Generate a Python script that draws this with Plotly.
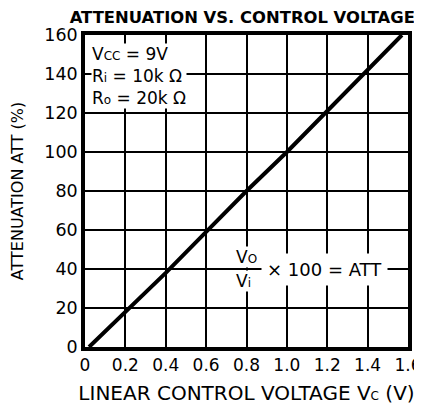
import plotly.graph_objects as go

# Data
control_voltage = [0.02, 0.2, 0.4, 0.6, 0.8, 1.0, 1.2, 1.4, 1.57]
attenuation = [0, 18, 38, 59, 80, 100, 121, 142, 160]

x_ticks = [0, 0.2, 0.4, 0.6, 0.8, 1.0, 1.2, 1.4, 1.6]
x_tick_labels = ["0", "0.2", "0.4", "0.6", "0.8", "1.0", "1.2", "1.4", "1.6"]
y_ticks = [0, 20, 40, 60, 80, 100, 120, 140, 160]

FONT = "DejaVu Sans, Liberation Sans, sans-serif"
SMALL = "<span style='font-size:12px'>{}</span>"

fig = go.Figure()
fig.add_trace(go.Scatter(x=control_voltage, y=attenuation, mode="lines",
                         line=dict(color="black", width=4), showlegend=False,
                         hoverinfo="skip"))

# page body has an 8px margin, so the figure is sized to fit the 422x409 window
fig.update_layout(
    width=414, height=401,
    margin=dict(l=77, r=14, t=27, b=62, autoexpand=False),
    paper_bgcolor="white", plot_bgcolor="white",
    font=dict(family=FONT, color="black", size=16),
    title=dict(text="<b>ATTENUATION VS. CONTROL VOLTAGE</b>",
               x=0.566, xanchor="center", y=0.977, yanchor="middle",
               font=dict(size=16.4, family=FONT, color="black")),
    showlegend=False,
)
fig.update_xaxes(range=[0, 1.6], tickvals=x_ticks, ticktext=x_tick_labels,
                 automargin=False,
                 showline=True, linecolor="black", linewidth=3.5, mirror=True,
                 showgrid=True, gridcolor="black", gridwidth=2,
                 zeroline=False, ticks="", ticklen=0,
                 tickfont=dict(size=17, family=FONT),
                 title=dict(text="LINEAR CONTROL VOLTAGE V" + SMALL.format("C") + " (V)",
                            font=dict(size=20, family=FONT), standoff=13))
fig.update_yaxes(range=[0, 160], tickvals=y_ticks,
                 automargin=False,
                 showline=True, linecolor="black", linewidth=3.5, mirror=True,
                 showgrid=True, gridcolor="black", gridwidth=2,
                 zeroline=False, ticks="", ticklen=0,
                 tickfont=dict(size=17.5, family=FONT),
                 title=dict(text="ATTENUATION ATT (%)",
                            font=dict(size=16, family=FONT), standoff=29))

# Condition box (top-left)
fig.add_annotation(xref="paper", yref="paper", x=0.02, y=0.975,
                   xanchor="left", yanchor="top", align="left", showarrow=False,
                   text=("V" + SMALL.format("CC") + " = 9V<br>"
                         "R" + SMALL.format("i") + " = 10k Ω<br>"
                         "R" + SMALL.format("o") + " = 20k Ω"),
                   font=dict(size=17, family=FONT), bgcolor="white",
                   borderpad=0)

# Formula annotation: Vo/Vi x 100 = ATT (fraction bar is the 40 gridline)
fig.add_annotation(x=0.745, y=40, xref="x", yref="y", xanchor="left", yanchor="bottom",
                   showarrow=False, text="V" + SMALL.format("O"),
                   font=dict(size=17, family=FONT), bgcolor="white", borderpad=0,
                   yshift=1)
fig.add_annotation(x=0.745, y=40, xref="x", yref="y", xanchor="left", yanchor="top",
                   showarrow=False, text="V" + SMALL.format("i"),
                   font=dict(size=17, family=FONT), bgcolor="white", borderpad=0,
                   yshift=-1)
fig.add_annotation(x=0.87, y=40, xref="x", yref="y", xanchor="left", yanchor="middle",
                   showarrow=False, text="× 100 = ATT",
                   font=dict(size=18, family=FONT), bgcolor="white", borderpad=5)

fig.write_html("out.html")
